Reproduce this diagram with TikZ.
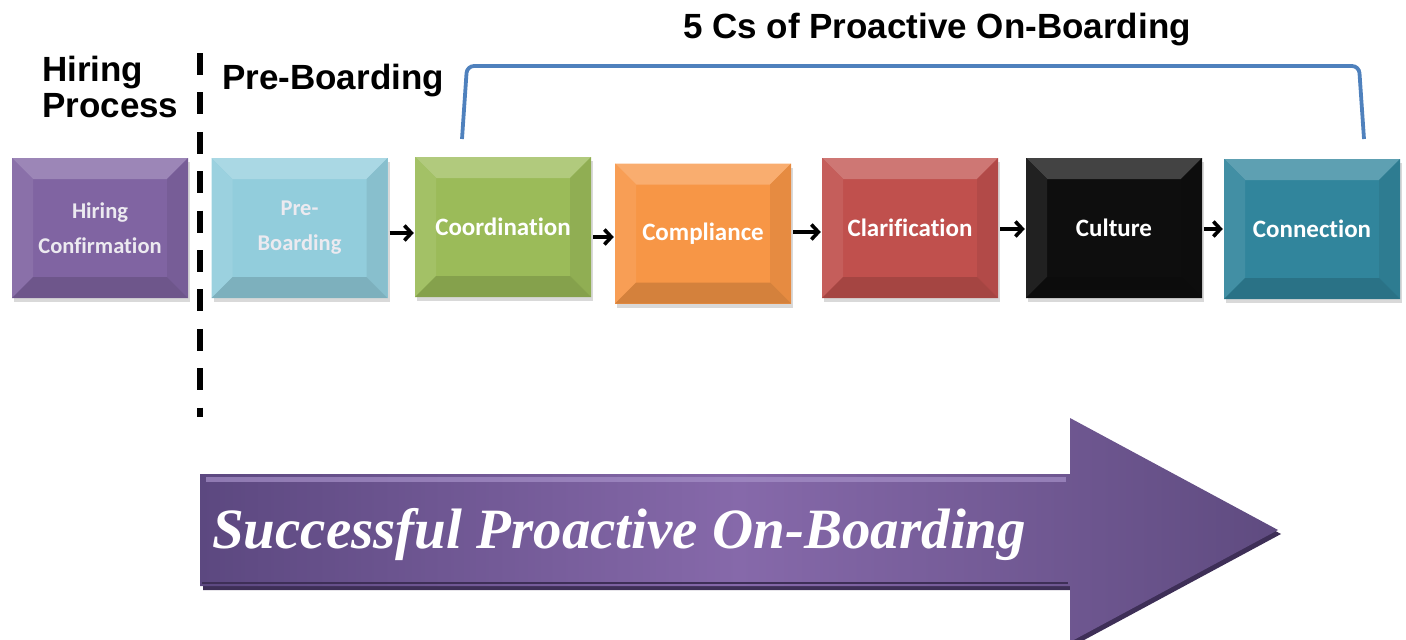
\documentclass[tikz,border=0pt]{standalone}
\usepackage{fontspec}
\usetikzlibrary{arrows.meta,shadows,calc}
\newfontfamily\boxfont{Carlito}[Ligatures=NoCommon]
\newfontfamily\headfont{Liberation Sans}
\newfontfamily\bigfont{Liberation Serif}
\definecolor{cPurple}{HTML}{8064A2}
\definecolor{cLblue}{HTML}{92CDDC}
\definecolor{cGreen}{HTML}{9BBB59}
\definecolor{cOrange}{HTML}{F79646}
\definecolor{cRed}{HTML}{C0504D}
\definecolor{cBlack}{HTML}{0E0E0E}
\definecolor{cTeal}{HTML}{31859C}
\definecolor{cBrace}{HTML}{4F81BD}
\definecolor{aDark}{HTML}{5C4880}
\definecolor{aMid}{HTML}{8669AA}
\definecolor{aRight}{HTML}{5F4B80}
\definecolor{aShadow}{HTML}{3E2F57}
\definecolor{aLight}{HTML}{A690C8}
\definecolor{paleText}{HTML}{ECEAF0}
\tikzset{
  bx/.style={minimum width=176pt, minimum height=140pt, inner sep=0pt,
    fill=#1, align=center, text=white,
    font=\boxfont\bfseries\fontsize{25}{30}\selectfont,
    drop shadow={shadow xshift=2pt, shadow yshift=-4pt, opacity=0.3},
    path picture={
      \coordinate (NW) at (path picture bounding box.north west);
      \coordinate (NE) at (path picture bounding box.north east);
      \coordinate (SW) at (path picture bounding box.south west);
      \coordinate (SE) at (path picture bounding box.south east);
      \coordinate (iNW) at ([xshift=21pt,yshift=-21pt]NW);
      \coordinate (iNE) at ([xshift=-21pt,yshift=-21pt]NE);
      \coordinate (iSW) at ([xshift=21pt,yshift=21pt]SW);
      \coordinate (iSE) at ([xshift=-21pt,yshift=21pt]SE);
      \fill[#1!78!white] (NW) -- (NE) -- (iNE) -- (iNW) -- cycle;
      \fill[#1!92!white] (NW) -- (iNW) -- (iSW) -- (SW) -- cycle;
      \fill[#1!93!black] (NE) -- (SE) -- (iSE) -- (iNE) -- cycle;
      \fill[#1!86!black] (SW) -- (iSW) -- (iSE) -- (SE) -- cycle;
    }},
  smallbx/.style={font=\boxfont\bfseries\fontsize{22.5}{35}\selectfont, text=paleText},
  flow/.style={line width=3.6pt, -{Straight Barb[length=7pt,width=15pt]}, shorten <=2pt, shorten >=1pt},
  head/.style={inner sep=0pt, font=\headfont\bfseries\fontsize{35}{36}\selectfont, text=black},
}
\begin{document}
\begin{tikzpicture}[x=1pt,y=-1pt]
\useasboundingbox (0,0) rectangle (1406,640);
\clip (0,0) rectangle (1406,640);

% headings
\node[head, anchor=base west] (fivecs) at (683,38) {5 Cs of Proactive On-Boarding};
\node[head, anchor=north west, align=left] (hiring) at (42,56) {Hiring\\Process};
\node[head, anchor=base west] (preb) at (222,89) {Pre-Boarding};

% bracket over the 5 Cs
\draw[cBrace, line width=3.8pt, rounded corners=7pt] (462,139) -- (467,66) -- (1359,66) -- (1364,139);

% dashed divider
\draw[black, line width=6pt, dash pattern=on 22pt off 17.4pt] (200,53) -- (200,417);

% boxes
\node[bx=cPurple, smallbx] (hc) at (100,228) {Hiring\\Confirmation};
\node[bx=cLblue, smallbx] (pb) at (299.5,228) {Pre-\\Boarding};
\node[bx=cGreen] (co) at (503,227) {Coordination};
\node[bx=cOrange] (cm) at (703,233.5) {Compliance};
\node[bx=cRed] (cl) at (910,228) {Clarification};
\node[bx=cBlack] (cu) at (1114,228) {Culture};
\node[bx=cTeal] (cn) at (1312,229) {Connection};

% flow arrows
\draw[flow] (pb.east |- 0,233) -- (co.west |- 0,233);
\draw[flow] (co.east |- 0,237) -- (cm.west |- 0,237);
\draw[flow] (cm.east |- 0,232) -- (cl.west |- 0,232);
\draw[flow] (cl.east |- 0,229) -- (cu.west |- 0,229);
\draw[flow] (cu.east |- 0,229) -- (cn.west |- 0,229);

% big arrow
\fill[aShadow] (203,478) -- (1073,478) -- (1073,422) -- (1281,534) -- (1073,646) -- (1073,590) -- (203,590) -- cycle;
\shade[left color=aDark, right color=aRight, middle color=aMid]
  (200,474) -- (1070,474) -- (1070,418) -- (1278,530) -- (1070,642) -- (1070,586) -- (200,586) -- cycle;
\fill[aLight, opacity=0.7] (206,477) -- (1066,477) -- (1066,482) -- (206,482) -- cycle;
\draw[aShadow, line width=1.5pt] (202,583) -- (1068,583);
\node[inner sep=0pt, anchor=base west, text=white,
  font=\bigfont\bfseries\itshape\fontsize{57}{60}\selectfont] (spo) at (212,548) {Successful Proactive On-Boarding};
\end{tikzpicture}
\end{document}
